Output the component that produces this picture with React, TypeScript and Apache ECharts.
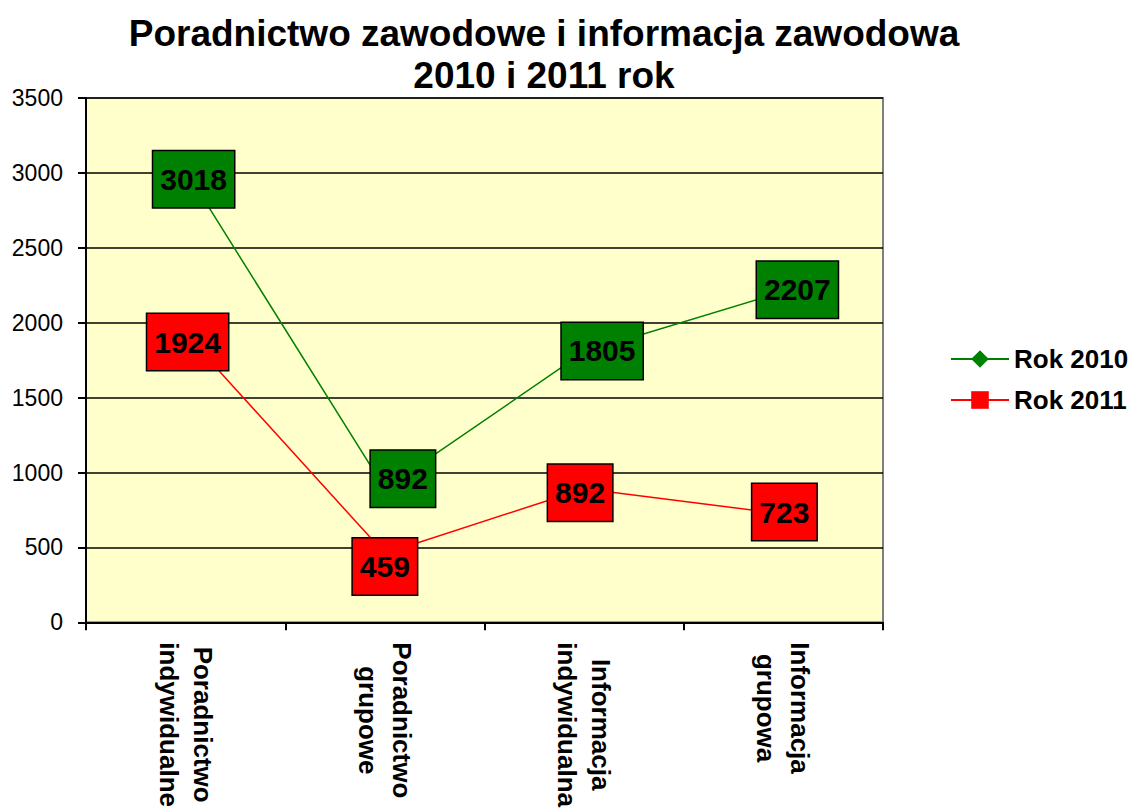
import React, { useEffect, useRef } from "react";
import * as echarts from "echarts";

const titleLines = ["Poradnictwo zawodowe i informacja zawodowa", "2010 i 2011 rok"];
const categories = [
  "Poradnictwo\nindywidualne",
  "Poradnictwo\ngrupowe",
  "Informacja\nindywidualna",
  "Informacja\ngrupowa",
];
const seriesNames = ["Rok 2010", "Rok 2011"];
const values2010 = [3018, 892, 1805, 2207];
const values2011 = [1924, 459, 892, 723];
const yTicks = { min: 0, max: 3500, interval: 500 };
// label box nudges (px) as placed in the original chart
const labelOffsets2010 = [[8, 9], [18, -10], [18, -1], [14, -2]];
const labelOffsets2011 = [[2, 8], [0, 13], [-4, 4], [1, -2]];

const FONT = "Liberation Sans, Arial, sans-serif";

function buildData(values: number[], offsets: number[][]) {
  return values.map((v, i) => ({ value: v, label: { offset: offsets[i] } }));
}

function labelStyle(bg: string) {
  return {
    show: true,
    position: "inside",
    fontFamily: FONT,
    fontWeight: "bold",
    fontSize: 30,
    lineHeight: 30,
    color: "#000",
    backgroundColor: bg,
    borderColor: "#000",
    borderWidth: 1.5,
    padding: [13, 7, 13, 7],
  };
}

export default function App() {
  const ref = useRef<HTMLDivElement>(null);
  useEffect(() => {
    if (!ref.current) return;
    const chart = echarts.init(ref.current, null, { renderer: "svg" });
    chart.setOption({
      animation: false,
      backgroundColor: "#fff",
      title: {
        text: titleLines.join("\n"),
        left: 539,
        textAlign: "center",
        top: 7,
        textStyle: {
          fontFamily: FONT,
          fontWeight: "bold",
          fontSize: 37,
          lineHeight: 42,
          color: "#000",
        },
      },
      legend: {
        orient: "vertical",
        left: 945,
        top: 339,
        itemWidth: 58,
        itemHeight: 22,
        itemGap: 11,
        textStyle: {
          fontFamily: FONT,
          fontWeight: "bold",
          fontSize: 26,
          lineHeight: 30,
          color: "#000",
        },
        data: seriesNames,
      },
      grid: {
        left: 86,
        right: 251,
        top: 98,
        bottom: 187,
        show: true,
        backgroundColor: "#FFFFCC",
        borderColor: "#808080",
        borderWidth: 2,
      },
      xAxis: {
        type: "category",
        data: categories,
        boundaryGap: true,
        axisLine: { lineStyle: { color: "#000", width: 2 } },
        axisTick: { show: true, length: 8, lineStyle: { color: "#000", width: 2 } },
        axisLabel: {
          rotate: -90,
          interval: 0,
          margin: 20,
          fontFamily: FONT,
          fontWeight: "bold",
          fontSize: 26,
          lineHeight: 34,
          color: "#000",
          formatter: (v: string) =>
            v
              .split("\n")
              .map((s) => `{c|${s}}`)
              .join("\n"),
          rich: {
            c: {
              align: "center",
              fontFamily: FONT,
              fontWeight: "bold",
              fontSize: 26,
              lineHeight: 34,
              color: "#000",
            },
          },
        },
      },
      yAxis: {
        type: "value",
        min: yTicks.min,
        max: yTicks.max,
        interval: yTicks.interval,
        axisLine: { show: true, lineStyle: { color: "#000", width: 2 } },
        axisTick: { show: true, length: 8, lineStyle: { color: "#000", width: 2 } },
        axisLabel: {
          margin: 23,
          fontFamily: FONT,
          fontSize: 23,
          color: "#000",
          formatter: (v: number) => String(v),
        },
        splitLine: { show: true, lineStyle: { color: "#000", width: 1.5 } },
      },
      series: [
        {
          name: seriesNames[0],
          type: "line",
          data: buildData(values2010, labelOffsets2010),
          symbol: "diamond",
          symbolSize: 18,
          itemStyle: { color: "#008000" },
          lineStyle: { color: "#008000", width: 1.5 },
          label: labelStyle("#008000"),
        },
        {
          name: seriesNames[1],
          type: "line",
          data: buildData(values2011, labelOffsets2011),
          symbol: "rect",
          symbolSize: 16,
          itemStyle: { color: "#FF0000" },
          lineStyle: { color: "#FF0000", width: 1.5 },
          label: labelStyle("#FF0000"),
        },
      ],
    });
    return () => chart.dispose();
  }, []);
  return (
    <div
      ref={ref}
      style={{ position: "fixed", left: 0, top: 0, width: 1134, height: 810 }}
    />
  );
}
